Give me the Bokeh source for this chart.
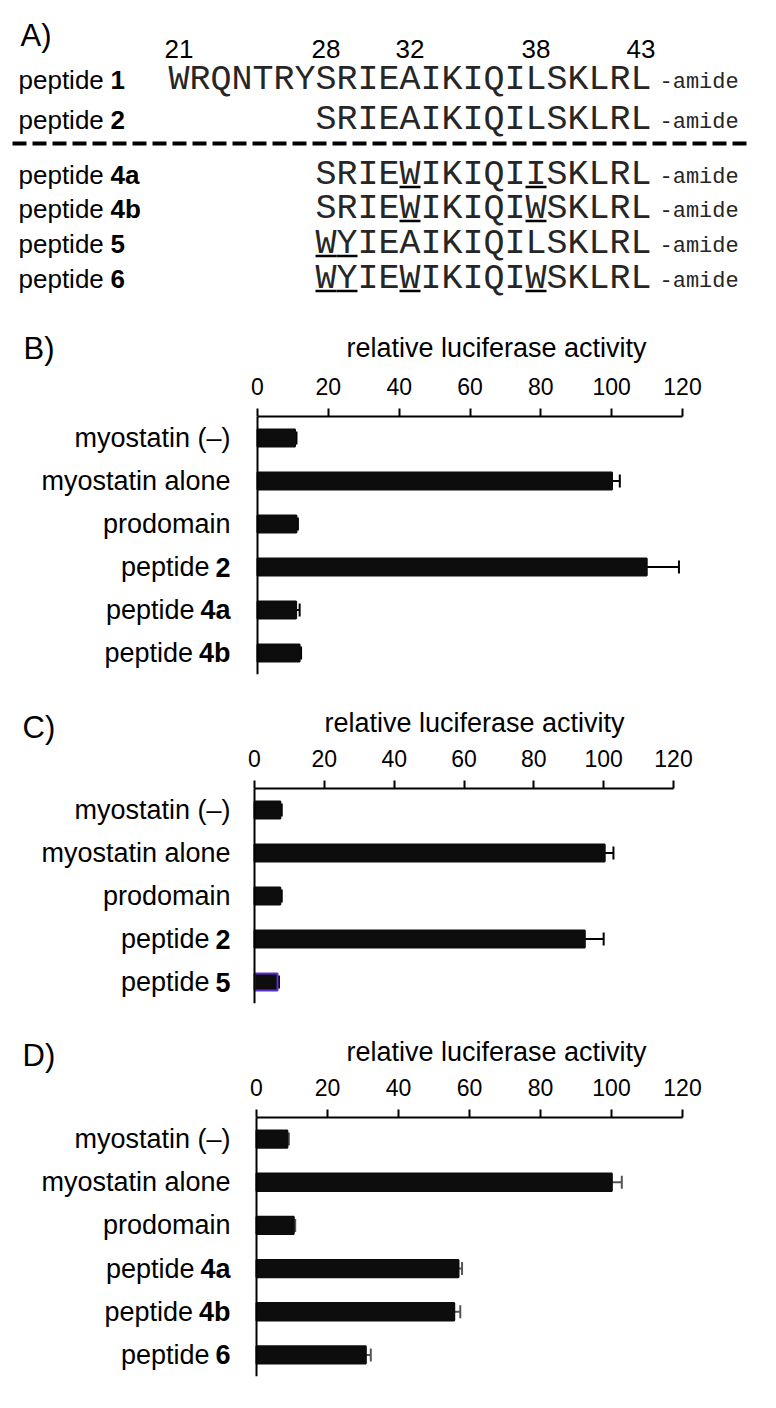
from bokeh.plotting import figure
from bokeh.models import (ColumnDataSource, Range1d, FactorRange, FixedTicker,
                          Whisker, TeeHead)
from bokeh.layouts import column
from bokeh.core.properties import value
from bokeh.embed import file_html
from bokeh.resources import INLINE

# ---------------- data ----------------
residue_numbers = [21, 28, 32, 38, 43]
peptide_ids = ["1", "2", "4a", "4b", "5", "6"]
peptide_seqs = ["WRQNTRYSRIEAIKIQILSKLRL", "SRIEAIKIQILSKLRL", "SRIEWIKIQIISKLRL",
                "SRIEWIKIQIWSKLRL", "WYIEAIKIQILSKLRL", "WYIEWIKIQIWSKLRL"]
peptide_first_residue = [21, 28, 28, 28, 28, 28]
underlined_residues = [[], [], [32, 38], [32, 38], [28, 29], [28, 29, 32, 38]]
seq_suffix = "-amide"

b_categories = ["myostatin (–)", "myostatin alone", "prodomain", "peptide 2", "peptide 4a", "peptide 4b"]
b_values = [10.6, 100.1, 11.0, 109.9, 10.9, 11.9]
b_errors = [0.4, 2.2, 0.4, 9.1, 1.0, 0.4]

c_categories = ["myostatin (–)", "myostatin alone", "prodomain", "peptide 2", "peptide 5"]
c_values = [7.4, 100.3, 7.4, 94.6, 6.6]
c_errors = [0.4, 2.5, 0.4, 5.4, 0.4]
c_outline = ["#0d0d0d", "#0d0d0d", "#0d0d0d", "#0d0d0d", "#5b30d6"]

d_categories = ["myostatin (–)", "myostatin alone", "prodomain", "peptide 4a", "peptide 4b", "peptide 6"]
d_values = [8.7, 100.1, 10.5, 56.9, 55.7, 30.8]
d_errors = [0.4, 2.8, 0.4, 1.0, 1.7, 1.4]

x_ticks = [0, 20, 40, 60, 80, 100, 120]
axis_title = "relative luciferase activity"

SANS = "Liberation Sans"
MONO = "Liberation Mono"
W = 776


def blank_fig(h):
    p = figure(width=W, height=h, x_range=Range1d(0, W), y_range=Range1d(h, 0),
               x_axis_type=None, y_axis_type=None, min_border=0,
               output_backend="svg", toolbar_location=None)
    p.outline_line_color = None
    p.grid.visible = False
    return p


def txt(p, x, y, t, size, font=SANS, align="left", bold=False, color="black"):
    p.text(x=x, y=y, text=t, text_font=value(font), text_font_size=f"{size}px",
           text_font_style="bold" if bold else "normal", text_align=align,
           text_baseline="middle", text_color=color)


# ---------------- panel A ----------------
pa = blank_fig(312)

SEQ_X0 = 168.0
ADV = 21.0          # advance of the 35px monospace font
row_mid = [79, 119, 174, 208, 243, 278]
nrow = len(peptide_ids)


def res_x(r):
    return SEQ_X0 + (r - 21) * ADV


txt(pa, [res_x(f) for f in peptide_first_residue], row_mid, peptide_seqs, 35,
    font=MONO, color="#262626")
txt(pa, [res_x(44) + 8] * nrow, [m + 3.4 for m in row_mid], [seq_suffix] * nrow, 22,
    font=MONO, color="#262626")
txt(pa, [res_x(r) + ADV / 2 for r in residue_numbers], [48] * len(residue_numbers),
    [str(r) for r in residue_numbers], 26, align="center")
txt(pa, [18] * nrow, row_mid, ["peptide"] * nrow, 26)
txt(pa, [110] * nrow, row_mid, peptide_ids, 26, bold=True)
txt(pa, [20], [35], ["A)"], 31)
pa.segment(x0=[12], y0=[143], x1=[750], y1=[143], line_color="black", line_width=4,
           line_dash="14 6")
ux0, ux1, uy = [], [], []
for row, residues in enumerate(underlined_residues):
    for r in residues:
        ux0.append(res_x(r))
        ux1.append(res_x(r) + ADV)
        uy.append(row_mid[row] + 12.5)
pa.segment(x0=ux0, y0=uy, x1=ux1, y1=uy, line_color="black", line_width=2.5)


# ---------------- headers for B, C, D ----------------
def header(letter, h, letter_x, letter_mid, title_cx, title_mid):
    p = blank_fig(h)
    txt(p, [letter_x], [letter_mid], [letter], 31)
    txt(p, [title_cx], [title_mid], [axis_title], 27, align="center")
    return p


# ---------------- bar panels ----------------
BOLD_W = {"0": 0.556, "1": 0.556, "2": 0.556, "3": 0.556, "4": 0.556, "5": 0.556,
          "6": 0.556, "a": 0.556, "b": 0.611}
LABEL_SIZE = 27


def split_label(c):
    if c.startswith("peptide "):
        return "peptide", c[len("peptide "):]
    return c, ""


def bar_panel(cats, vals, errs, fig_h, top, bottom, zero_px, max_px, label_dx,
              err_color="black", outline=None):
    n = len(cats)
    scale = (max_px - zero_px) / 120.0
    p = figure(width=W, height=fig_h,
               x_range=Range1d(-zero_px / scale, 120 + (W - max_px) / scale),
               y_range=FactorRange(factors=list(reversed(cats))),
               x_axis_location="above", y_axis_location=None,
               output_backend="svg", toolbar_location=None,
               min_border_top=top, min_border_bottom=bottom,
               min_border_left=0, min_border_right=0)
    p.outline_line_color = None
    p.grid.visible = False

    src = ColumnDataSource(dict(cat=cats, val=vals, upper=[v + e for v, e in zip(vals, errs)],
                                line=outline if outline else ["#0d0d0d"] * n))
    p.hbar(y="cat", left=0, right="val", height=0.4, source=src,
           fill_color="#0d0d0d", line_color="line", line_width=2)
    wh = Whisker(source=src, base="cat", lower="val", upper="upper", dimension="width",
                 line_color=err_color, line_width=2,
                 upper_head=TeeHead(size=13, line_color=err_color, line_width=2),
                 lower_head=None)
    p.add_layout(wh)
    # vertical (category) axis line at x = 0
    p.vspan(x=[0], line_color="black", line_width=2)

    xa = p.xaxis[0]
    xa.bounds = (0, 120)
    xa.ticker = FixedTicker(ticks=x_ticks)
    xa.major_tick_out = 8
    xa.major_tick_in = 0
    xa.minor_tick_out = 0
    xa.minor_tick_in = 0
    xa.axis_line_width = 2
    xa.major_tick_line_width = 2
    xa.major_label_text_font = SANS
    xa.major_label_text_font_size = "23px"
    xa.major_label_text_color = "black"
    xa.major_label_standoff = 14

    # category labels (regular text + bold compound number)
    plain, bold = zip(*[split_label(c) for c in cats])
    bw = [sum(BOLD_W.get(ch, 0.6) for ch in b) * LABEL_SIZE for b in bold]
    p.text(x=[0] * n, y=list(cats), text=list(plain),
           x_offset=[label_dx - (w + 6 if w else 0) for w in bw],
           text_align="right", text_baseline="middle", text_font=value(SANS),
           text_font_size=f"{LABEL_SIZE}px", text_color="black")
    idx = [i for i in range(n) if bold[i]]
    p.text(x=[0] * len(idx), y=[cats[i] for i in idx], text=[bold[i] for i in idx],
           x_offset=label_dx, text_align="right", text_baseline="middle",
           text_font=value(SANS), text_font_size=f"{LABEL_SIZE}px",
           text_font_style="bold", text_color="black")
    return p


hb = header("B)", 60, 23, 36, 496, 35)
pb = bar_panel(b_categories, b_values, b_errors, 326, 44, 24, 257, 682, -27)
hc = header("C)", 47, 22, 29, 474, 24)
pc = bar_panel(c_categories, c_values, c_errors, 267, 43, 9, 254, 673, -24,
               outline=c_outline)
hd = header("D)", 63, 22, 43, 496, 39)
pd_ = bar_panel(d_categories, d_values, d_errors, 325, 42, 24, 256, 682, -26,
                err_color="#555555")

layout = column(pa, hb, pb, hc, pc, hd, pd_)
open("out.html", "w").write(file_html(layout, INLINE, "Myostatin inhibitory peptides"))
